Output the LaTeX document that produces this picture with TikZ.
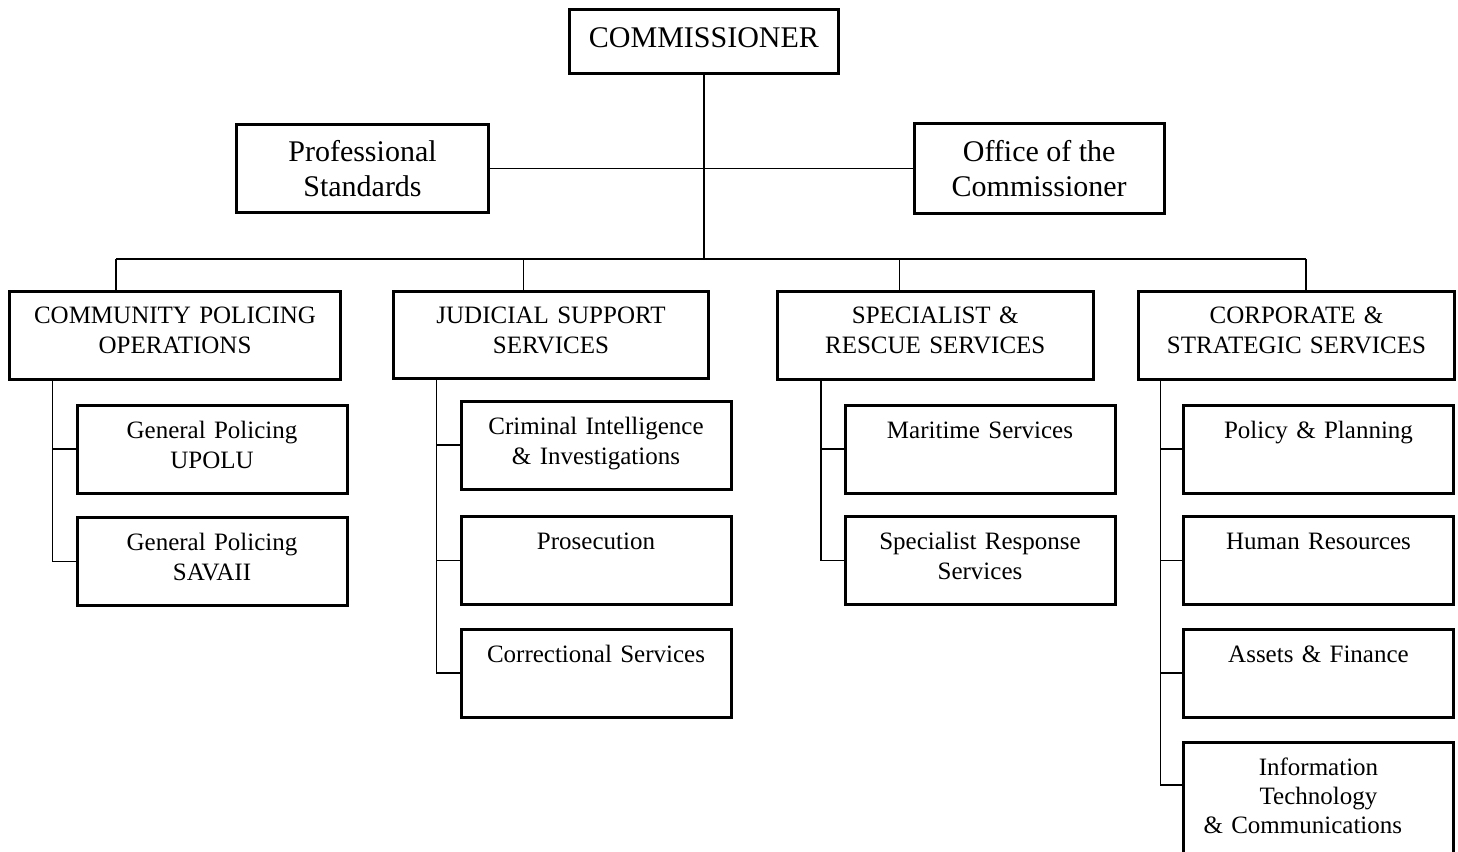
\documentclass[tikz,border=0pt]{standalone}
\usepackage{fontspec}
\setmainfont{Liberation Serif}
\tikzset{
  boss/.style={draw, line width=1.5pt, inner sep=0pt, align=center, font=\fontsize{15}{17.25}\selectfont},
  dept/.style={draw, line width=1.5pt, inner sep=0pt, anchor=north west, align=center, text height=16pt, text depth=27.75pt, font=\fontsize{12.5}{15}\selectfont},
  unit/.style={dept, text width=135pt, text height=16.5pt, text depth=27.5pt},
  link/.style={line width=0.75pt}
}
\begin{document}
\begin{tikzpicture}[x=0.5pt,y=-0.5pt]
\useasboundingbox (0,0) rectangle (1458,852);
% top of the chart
\node[boss, minimum width=134.5pt, minimum height=32pt, text depth=3.6pt] (comm) at (704,41) {COMMISSIONER};
\node[boss, minimum width=125.8pt, minimum height=44.25pt] (prof) at (362.5,168.4) {Professional\\Standards};
\node[boss, minimum width=124.8pt, minimum height=45pt] (office) at (1039.2,168.4) {Office of the\\Commissioner};
% the four divisions
\node[dept, text width=165.5pt] (cpo) at (8,290) {COMMUNITY POLICING\\OPERATIONS};
\node[dept, text width=157.5pt] (jss) at (392,289.5) {JUDICIAL SUPPORT\\SERVICES};
\node[dept, text width=158pt] (srs) at (775.7,290) {SPECIALIST \&\\RESCUE SERVICES};
\node[dept, text width=158.3pt] (css) at (1136.7,290) {CORPORATE \&\\STRATEGIC SERVICES};
% units
\node[unit] (upolu) at (75.5,403.5) {General Policing\\UPOLU};
\node[unit] (savaii) at (75.5,516) {General Policing\\SAVAII};
\node[unit] (cii) at (459.5,399.5) {Criminal Intelligence\\\& Investigations};
\node[unit] (pros) at (459.5,515) {Prosecution};
\node[unit] (corr) at (459.5,627.5) {Correctional Services};
\node[unit] (mar) at (843.5,403.5) {Maritime Services};
\node[unit] (spr) at (843.5,515) {Specialist Response\\Services};
\node[unit] (pol) at (1182,403.5) {Policy \& Planning};
\node[unit] (hr) at (1182,515) {Human Resources};
\node[unit] (fin) at (1182,627.5) {Assets \& Finance};
\node[unit, text depth=60pt, font=\fontsize{12.5}{14.5}\selectfont] (it) at (1182,741) {Information\\Technology\\\makebox[115pt][l]{\& Communications}};
% connectors
\coordinate (hub) at (704,259);
\draw[link] (comm) -- (hub);
\draw[link] (prof) -- (office);
\coordinate (b1) at (116,259);
\coordinate (b2) at (523.3,259);
\coordinate (b3) at (899.3,259);
\coordinate (b4) at (1306,259);
\draw[link] (b1) -- (b4);
\foreach \b/\d in {b1/cpo,b2/jss,b3/srs,b4/css}
  \draw[link] (\b) -- (\b |- \d.north);
\draw[link] ([xshift=22.15pt]cpo.south west) coordinate (s1) |- (savaii.west);
\draw[link] (s1 |- upolu.west) -- (upolu.west);
\draw[link] ([xshift=22.35pt]jss.south west) coordinate (s2) |- (corr.west);
\draw[link] (s2 |- cii.west) -- (cii.west);
\draw[link] (s2 |- pros.west) -- (pros.west);
\draw[link] ([xshift=22.65pt]srs.south west) coordinate (s3) |- (spr.west);
\draw[link] (s3 |- mar.west) -- (mar.west);
\draw[link] ([xshift=11.8pt]css.south west) coordinate (s4) |- ([yshift=-22pt]it.north west);
\foreach \u in {pol,hr,fin}
  \draw[link] (s4 |- \u.west) -- (\u.west);
\end{tikzpicture}
\end{document}
